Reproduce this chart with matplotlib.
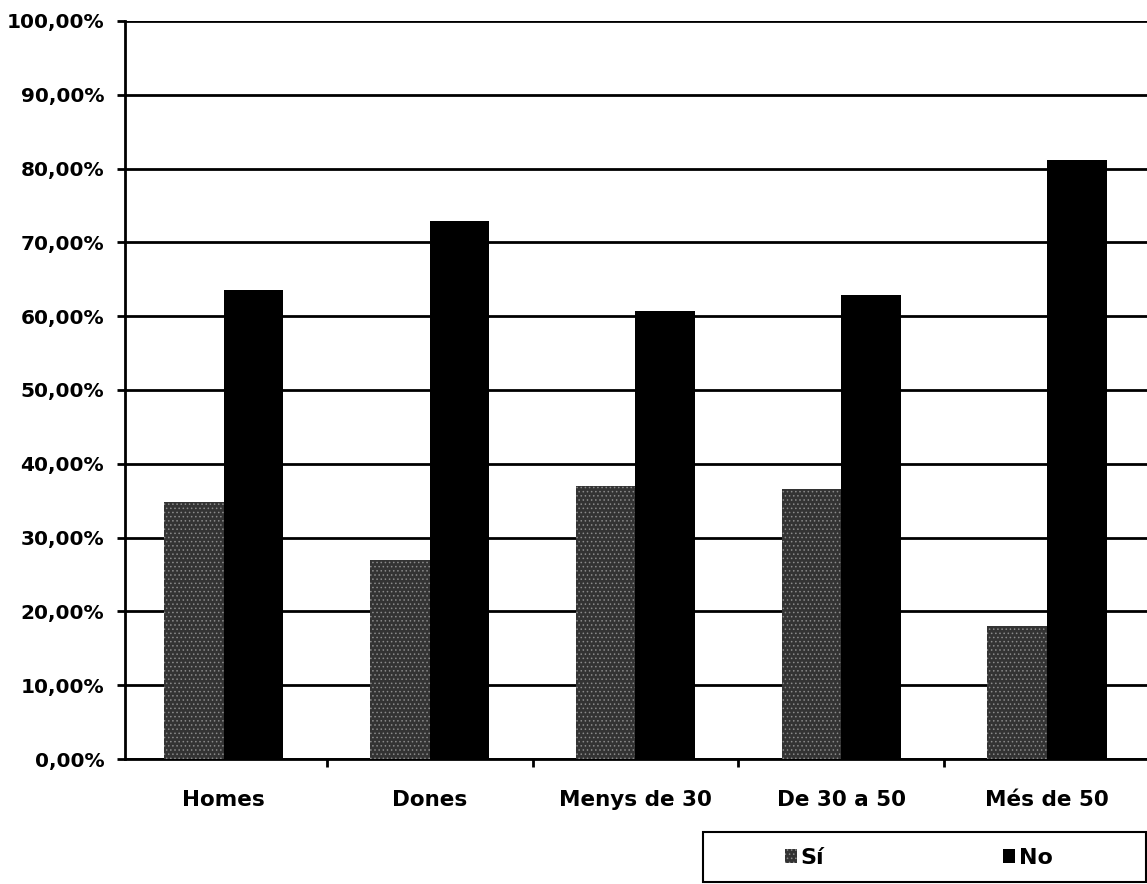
import matplotlib.pyplot as plt
from matplotlib.patches import Rectangle
import numpy as np

categories = ["Homes", "Dones", "Menys de 30", "De 30 a 50", "Més de 50"]
si_values = [34.8, 27.0, 37.0, 36.6, 18.0]
no_values = [63.5, 72.9, 60.7, 62.9, 81.2]
series_names = ["Sí", "No"]
y_ticks = [0, 10, 20, 30, 40, 50, 60, 70, 80, 90, 100]

plt.rcParams['font.family'] = ['DejaVu Sans']
plt.rcParams['hatch.linewidth'] = 0.6

W, H = 1147, 884
fig = plt.figure(figsize=(W / 100, H / 100), dpi=100)
# axes box in pixels: left 125, right 1147, top 21, bottom 759
ax = fig.add_axes([125 / W, 1 - 759 / H, (W - 125) / W, (759 - 21) / H])

x = np.arange(len(categories))
w = 0.29
b_si = ax.bar(x - w / 2, si_values, width=w, color='#333333', edgecolor='#8a8a8a',
              hatch='....', linewidth=0, label=series_names[0], zorder=3)
b_no = ax.bar(x + w / 2, no_values, width=w, color='black', linewidth=0,
              label=series_names[1], zorder=3)

# the scan cuts the last category off at the right edge
ax.set_xlim(-0.48, 4.485)
ax.set_ylim(0, 100)
ax.set_yticks(y_ticks)
ax.set_yticklabels([f"{v},00%" for v in y_ticks], fontsize=14.5, fontweight='bold')
ax.yaxis.grid(True, color='black', linewidth=2, zorder=1)
ax.set_axisbelow(True)

ax.set_xticks(x)
ax.set_xticklabels(categories, fontsize=15.5, fontweight='bold')
ax.set_xticks(np.arange(0.5, len(categories) - 1, 1.0), minor=True)
ax.tick_params(axis='x', which='major', length=0, pad=22)
ax.tick_params(axis='x', which='minor', length=6, width=2, direction='out')
ax.tick_params(axis='y', length=6, width=2, direction='out', pad=9)

for side in ['top', 'right']:
    ax.spines[side].set_visible(False)
for side in ['left', 'bottom']:
    ax.spines[side].set_linewidth(2)

# legend box
fig.patches.append(Rectangle((703 / W, 1 - 882 / H), (1146 - 703) / W, 50 / H,
                             transform=fig.transFigure, fill=False,
                             edgecolor='black', linewidth=1.5))
for handle, name, xpx in [(b_si, series_names[0], 785), (b_no, series_names[1], 1003)]:
    fig.legend([handle], [name], loc='center left',
               bbox_to_anchor=(xpx / W, 1 - 858 / H), frameon=False,
               prop={'size': 16, 'weight': 'bold'}, handlelength=0.55,
               handleheight=0.55, handletextpad=0.15, borderpad=0,
               borderaxespad=0)

fig.savefig('out.png', dpi=100)
